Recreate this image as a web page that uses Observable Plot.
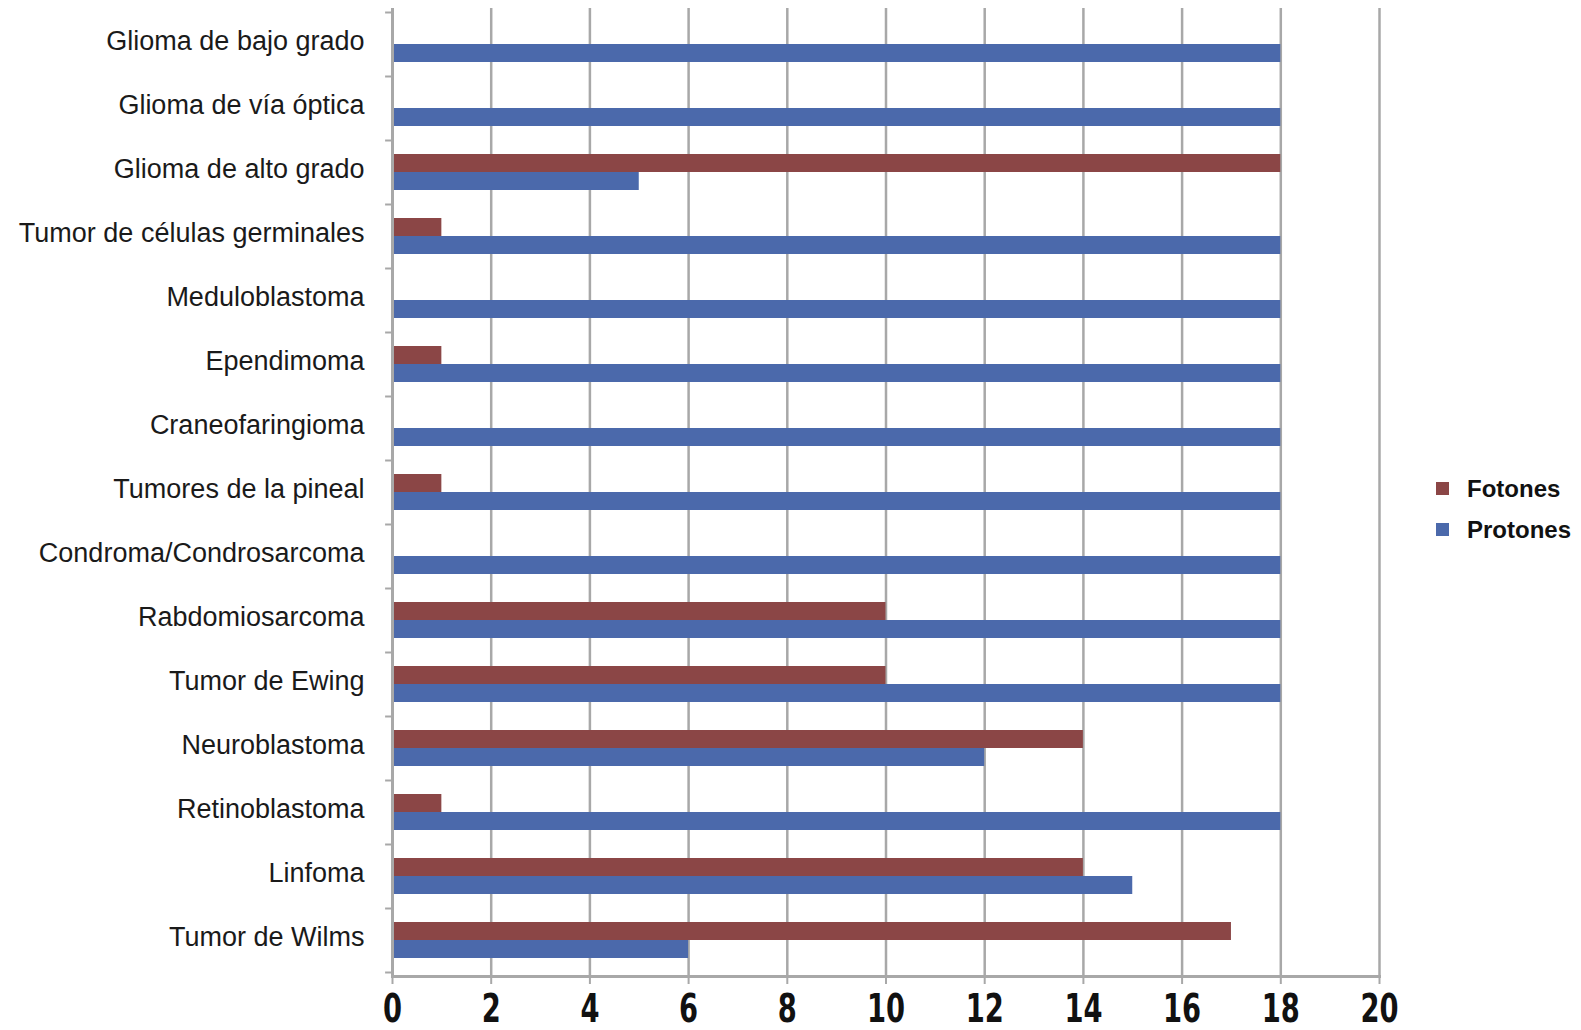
<!DOCTYPE html>
<html>
<head>
<meta charset="utf-8">
<script src="https://cdn.jsdelivr.net/npm/d3@7"></script>
<script src="https://cdn.jsdelivr.net/npm/@observablehq/plot@0.6"></script>
<style>
  html, body { margin: 0; padding: 0; background: #fff; }
  #wrap { position: relative; width: 1581px; height: 1030px; }
  #legend { position: absolute; left: 1436px; top: 468px; font-family: "Liberation Sans", Arial, sans-serif; font-weight: bold; font-size: 24px; color: #111; }
  #legend .item { display: flex; align-items: center; height: 41px; }
  #legend .sw { width: 13px; height: 13px; margin-right: 18px; }
</style>
</head>
<body>
<div id="wrap">
  <div id="chart"></div>
  <div id="legend"></div>
</div>
<script>
const categories = [
  "Glioma de bajo grado",
  "Glioma de vía óptica",
  "Glioma de alto grado",
  "Tumor de células germinales",
  "Meduloblastoma",
  "Ependimoma",
  "Craneofaringioma",
  "Tumores de la pineal",
  "Condroma/Condrosarcoma",
  "Rabdomiosarcoma",
  "Tumor de Ewing",
  "Neuroblastoma",
  "Retinoblastoma",
  "Linfoma",
  "Tumor de Wilms"
];
const fotones  = [0, 0, 18, 1, 0, 1, 0, 1, 0, 10, 10, 14, 1, 14, 17];
const protones = [18, 18, 5, 18, 18, 18, 18, 18, 18, 18, 18, 12, 18, 15, 6];
const series = ["Fotones", "Protones"];
const seriesColors = ["#8b4646", "#4b69ab"];
const xTicks = [0, 2, 4, 6, 8, 10, 12, 14, 16, 18, 20];

const rows = categories.flatMap((c, i) => [
  {cat: c, serie: "Fotones", v: fotones[i]},
  {cat: c, serie: "Protones", v: protones[i]}
]);

const gray = "#a8a8a8";
const chart = Plot.plot({
  width: 1581,
  height: 1030,
  marginLeft: 392,
  marginRight: 202,
  marginTop: 8,
  marginBottom: 54,
  style: {background: "white", fontFamily: "'Liberation Sans', Arial, sans-serif", color: "#1a1a1a"},
  x: {domain: [0, 20]},
  y: {domain: categories, padding: 0},
  color: {domain: series, range: seriesColors},
  marks: [
    Plot.ruleX(xTicks.slice(1), {stroke: gray, strokeWidth: 2.5}),
    Plot.barX(rows.filter(d => d.serie === "Fotones"), {x: "v", y: "cat", fill: "serie", insetTop: 23, insetBottom: 23, dy: -9}),
    Plot.barX(rows.filter(d => d.serie === "Protones"), {x: "v", y: "cat", fill: "serie", insetTop: 23, insetBottom: 23, dy: 9}),
    Plot.ruleX([0], {stroke: gray, strokeWidth: 3}),
    Plot.ruleY(categories, {y: d => d, x1: -0.14, x2: 0, dy: -32, stroke: gray, strokeWidth: 2}),
    Plot.ruleY(categories.slice(-1), {y: d => d, x1: -0.14, x2: 0, dy: 32, stroke: gray, strokeWidth: 2}),
    Plot.frame({anchor: "bottom", stroke: gray, strokeWidth: 3}),
    Plot.axisY({tickSize: 0, tickPadding: 28, fontSize: 27, label: null, fill: "#1a1a1a", dy: -3}),
    Plot.axisX({ticks: xTicks, tickSize: 8, tickPadding: 9, stroke: gray, strokeWidth: 2, strokeOpacity: 1, fontSize: 38, fontWeight: "bold", fontFamily: "'Liberation Sans Narrow', 'DejaVu Sans Condensed', sans-serif", fill: "#111", label: null, className: "xaxis"})
  ]
});
document.getElementById("chart").appendChild(chart);

// narrow, tall digits like the reference
chart.querySelectorAll(".xaxis text").forEach(t => {
  const tr = t.getAttribute("transform") || "";
  t.setAttribute("transform", tr + " scale(0.8,1.05)");
});

const legend = document.getElementById("legend");
series.forEach((s, i) => {
  const item = document.createElement("div");
  item.className = "item";
  const sw = document.createElement("span");
  sw.className = "sw";
  sw.style.background = seriesColors[i];
  const t = document.createElement("span");
  t.textContent = s;
  item.appendChild(sw);
  item.appendChild(t);
  legend.appendChild(item);
});
</script>
</body>
</html>
